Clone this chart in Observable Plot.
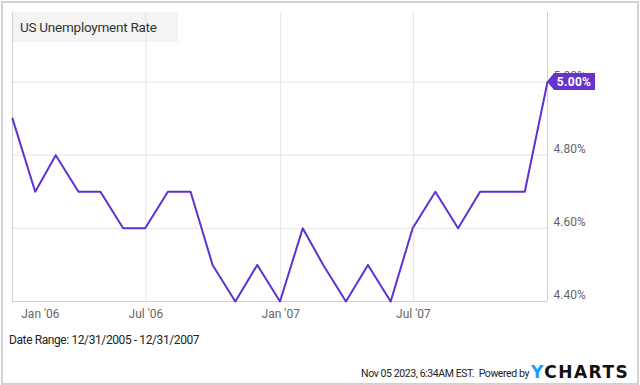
<!DOCTYPE html>
<html>
<head>
<meta charset="utf-8">
<script src="https://cdn.jsdelivr.net/npm/d3@7"></script>
<script src="https://cdn.jsdelivr.net/npm/@observablehq/plot@0.6"></script>
<style>
  html, body { margin: 0; padding: 0; background: #fff; }
  #wrap { position: relative; width: 640px; height: 385px; overflow: hidden; font-family: Roboto, sans-serif; }
  #border { position: absolute; left: 1px; top: 1px; width: 634px; height: 380px; border: 2px solid #d2d2d2; }
  #titlebox { position: absolute; left: 12px; top: 12px; width: 166px; height: 30px; background: #f4f4f4; }
  #title { position: absolute; left: 20px; top: 19px; font-size: 13.5px; letter-spacing: -0.25px; color: #333; }
  #chart { position: absolute; left: 0; top: 0; }
  #range { position: absolute; left: 9px; top: 333px; font-size: 12px; letter-spacing: -0.4px; color: #222; }
  #stamp { position: absolute; right: 111px; top: 367px; font-size: 10.5px; letter-spacing: -0.4px; color: #222; white-space: pre; }
  #logo { position: absolute; left: 531px; top: 362px; font-family: "DejaVu Sans", sans-serif; font-weight: bold; font-size: 17px; letter-spacing: 1.5px; color: #111; }
  #logo span { color: #1e9bff; }
</style>
</head>
<body>
<div id="wrap">
  <div id="border"></div>
  <div id="titlebox"></div>
  <div id="title">US Unemployment Rate</div>
  <div id="chart"></div>
  <div id="range">Date Range: 12/31/2005 - 12/31/2007</div>
  <div id="stamp">Nov 05 2023, 6:34AM EST.  Powered by</div>
  <div id="logo"><span>Y</span>CHARTS</div>
</div>
<script>
const dates = [
  "2005-12-31","2006-01-31","2006-02-28","2006-03-31","2006-04-30","2006-05-31",
  "2006-06-30","2006-07-31","2006-08-31","2006-09-30","2006-10-31","2006-11-30",
  "2006-12-31","2007-01-31","2007-02-28","2007-03-31","2007-04-30","2007-05-31",
  "2007-06-30","2007-07-31","2007-08-31","2007-09-30","2007-10-31","2007-11-30",
  "2007-12-31"
];
const rates = [
  4.9, 4.7, 4.8, 4.7, 4.7, 4.6,
  4.6, 4.7, 4.7, 4.5, 4.4, 4.5,
  4.4, 4.6, 4.5, 4.4, 4.5, 4.4,
  4.6, 4.7, 4.6, 4.7, 4.7, 4.7,
  5.0
];
const xTicks = ["2006-01-01", "2006-07-01", "2007-01-01", "2007-07-01"];
const xTickLabels = ["Jan '06", "Jul '06", "Jan '07", "Jul '07"];
const yTicks = [4.4, 4.6, 4.8, 5.0];
const yDomain = [4.4, 5.19];
const xDomain = ["2005-12-31", "2007-12-31"];

const data = dates.map((d, i) => ({date: new Date(d), rate: rates[i]}));
const tickDates = xTicks.map(d => new Date(d));
const labelOf = d => xTickLabels[tickDates.findIndex(t => +t === +d)];
const last = data[data.length - 1];
const lineColor = "#5f31d2";
const flagColor = "#6633cc";

const axisFont = {fontSize: 12, fill: "#666"};

const flag = (index, scales) => {
  const px = scales.x(last.date), py = scales.y(last.rate);
  const g = document.createElementNS("http://www.w3.org/2000/svg", "g");
  const poly = document.createElementNS("http://www.w3.org/2000/svg", "path");
  const h = 8.5;
  poly.setAttribute("d", `M${px},${py}L${px + 7},${py - h}L${px + 48},${py - h}L${px + 48},${py + h}L${px + 7},${py + h}Z`);
  poly.setAttribute("fill", flagColor);
  g.appendChild(poly);
  const t = document.createElementNS("http://www.w3.org/2000/svg", "text");
  t.setAttribute("x", px + 27);
  t.setAttribute("y", py);
  t.setAttribute("dy", "0.35em");
  t.setAttribute("text-anchor", "middle");
  t.setAttribute("fill", "#fff");
  t.setAttribute("font-weight", "bold");
  t.setAttribute("font-size", "12");
  t.setAttribute("font-family", "Roboto, sans-serif");
  t.setAttribute("letter-spacing", "0.3");
  t.textContent = last.rate.toFixed(2) + "%";
  g.appendChild(t);
  return g;
};

const chart = Plot.plot({
  width: 640,
  height: 320,
  marginLeft: 12,
  marginRight: 93,
  marginTop: 12,
  marginBottom: 19,
  x: {type: "utc", domain: xDomain.map(d => new Date(d))},
  y: {domain: yDomain},
  style: {fontFamily: 'Roboto, sans-serif', fontSize: "12px", color: "#666", background: "transparent", overflow: "visible"},
  marks: [
    Plot.gridX(tickDates.slice(1), {stroke: "#e4e4e4", strokeOpacity: 1}),
    Plot.gridY(yTicks.slice(1), {stroke: "#e4e4e4", strokeOpacity: 1}),
    Plot.ruleX(xDomain.map(d => new Date(d)), {stroke: "#cfcfcf"}),
    Plot.ruleY([yDomain[0]], {stroke: "#cfcfcf"}),
    Plot.axisX(tickDates.slice(0, 1), {tickSize: 0, tickPadding: 8, tickFormat: labelOf, textAnchor: "start", dx: 8, ...axisFont, label: null}),
    Plot.axisX(tickDates.slice(1), {tickSize: 0, tickPadding: 8, tickFormat: labelOf, ...axisFont, label: null}),
    Plot.axisY(yTicks, {anchor: "right", tickSize: 0, tickPadding: 6, dy: -6, tickFormat: d => d.toFixed(2) + "%", ...axisFont, label: null}),
    Plot.line(data, {x: "date", y: "rate", stroke: lineColor, strokeWidth: 2}),
    flag
  ]
});
document.getElementById("chart").appendChild(chart);
</script>
</body>
</html>
